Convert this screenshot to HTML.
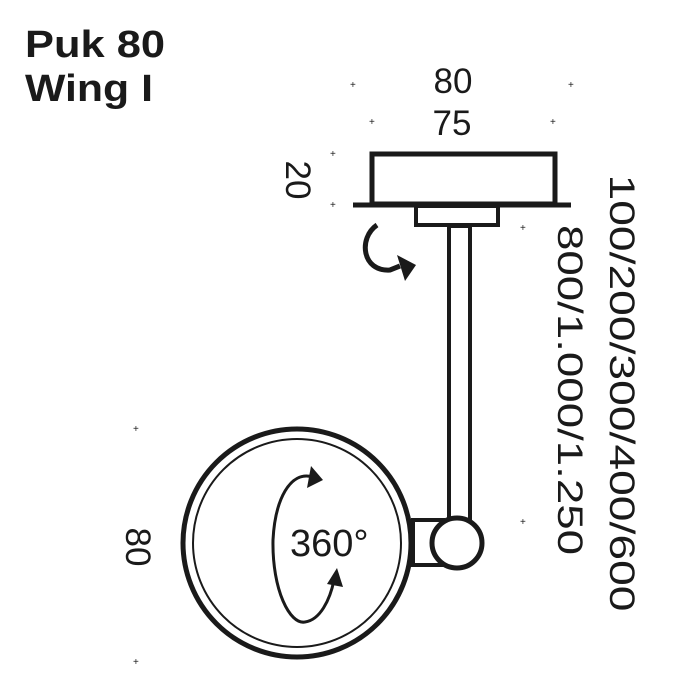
<!DOCTYPE html>
<html><head><meta charset="utf-8"><style>
html,body{margin:0;padding:0;background:#fff;}
svg{display:block;}
text{font-family:"Liberation Sans",sans-serif;fill:#1a1a1a;}
</style></head><body>
<svg width="700" height="700" viewBox="0 0 700 700" xmlns="http://www.w3.org/2000/svg">
<text x="25" y="57" font-size="38" font-weight="bold" textLength="140" lengthAdjust="spacingAndGlyphs">Puk 80</text>
<text x="25" y="101" font-size="38" font-weight="bold" textLength="128" lengthAdjust="spacingAndGlyphs">Wing I</text>
<text x="453" y="93" font-size="35" text-anchor="middle">80</text>
<text x="452" y="135" font-size="35" text-anchor="middle">75</text>
<text transform="translate(286,180) rotate(90)" font-size="35" text-anchor="middle">20</text>
<text transform="translate(610,393) rotate(90)" font-size="35" text-anchor="middle" textLength="437" lengthAdjust="spacingAndGlyphs">100/200/300/400/600</text>
<text transform="translate(558,390) rotate(90)" font-size="35" text-anchor="middle" textLength="330" lengthAdjust="spacingAndGlyphs">800/1.000/1.250</text>
<text transform="translate(126,547) rotate(90)" font-size="35" text-anchor="middle">80</text>
<g fill="#222" font-size="10">
<text x="350" y="88">+</text><text x="568" y="88">+</text>
<text x="369" y="125">+</text><text x="550" y="125">+</text>
<text x="330" y="157">+</text><text x="330" y="208">+</text>
<text x="520" y="231">+</text><text x="520" y="525">+</text>
<text x="133" y="432">+</text><text x="133" y="665">+</text>
</g>
<g fill="none" stroke="#1a1a1a">
<rect x="372" y="154" width="183" height="50" stroke-width="5"/>
<line x1="353" y1="205" x2="571" y2="205" stroke-width="5"/>
<rect x="416" y="206" width="82" height="19" stroke-width="4"/>
<rect x="449" y="226" width="21" height="295" stroke-width="4"/>
<rect x="413" y="520" width="30" height="45" stroke-width="4"/>
<circle cx="297" cy="543" r="114" stroke-width="5" fill="#fff"/>
<circle cx="297" cy="543" r="104" stroke-width="2"/>
<circle cx="457" cy="543" r="25" stroke-width="5" fill="#fff"/>
<path d="M377 225 C358 238 362 272 390 270 L400 266" stroke-width="5"/>
<path d="M313 477 C290 470 275 500 273 540 C272 590 290 625 305 622 C320 620 330 600 334 580" stroke-width="3"/>
</g>
<g fill="#1a1a1a">
<polygon points="397,255 416,265 405,281"/>
<polygon points="311,466 323,480 307,488"/>
<polygon points="327,584 337,568 343,587"/>
</g>
<text x="290" y="556" font-size="38">360°</text>
</svg>
</body></html>
